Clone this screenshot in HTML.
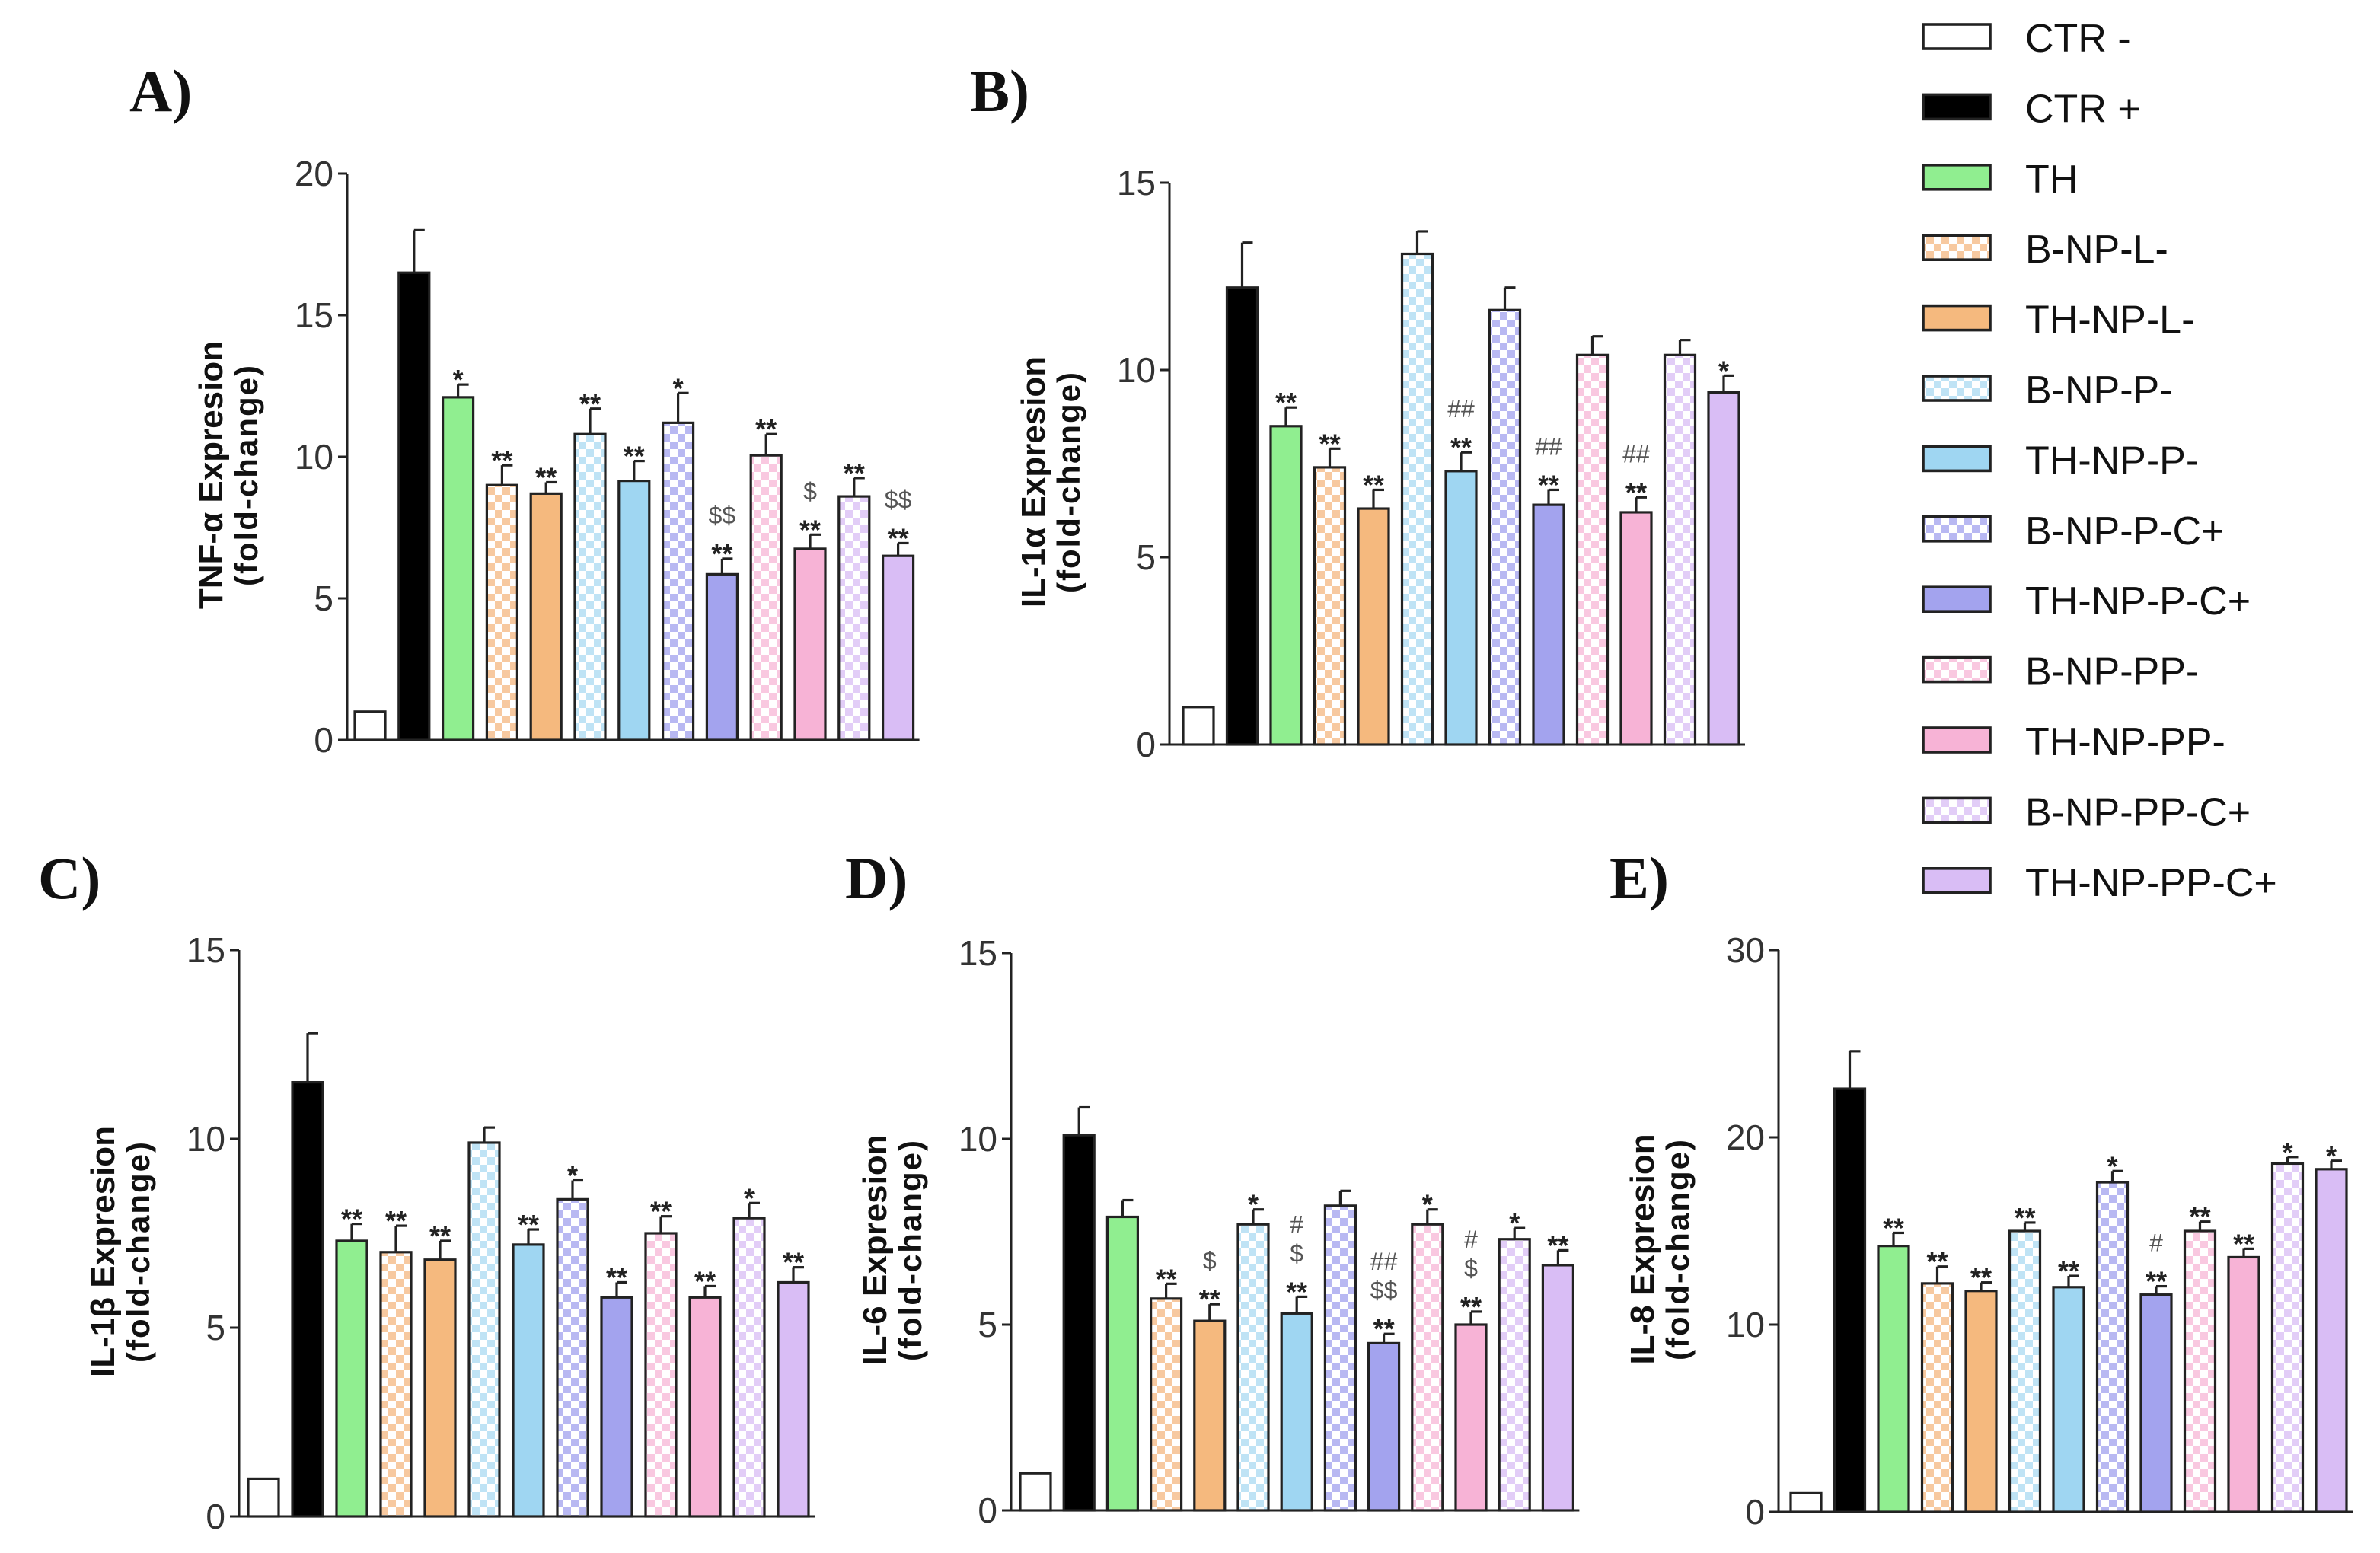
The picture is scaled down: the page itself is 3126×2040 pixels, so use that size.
<!DOCTYPE html>
<html><head><meta charset="utf-8"><style>
html,body{margin:0;padding:0;background:#fff;}
svg{display:block;}
</style></head><body>
<svg id="fig" xmlns="http://www.w3.org/2000/svg" width="3126" height="2040" viewBox="0 0 1563 1020" font-family="Liberation Sans, Arial, sans-serif">
<defs id="defs"></defs>
<g id="root"></g>
</svg>
<script>
const categories = ["CTR -","CTR +","TH","B-NP-L-","TH-NP-L-","B-NP-P-","TH-NP-P-","B-NP-P-C+","TH-NP-P-C+","B-NP-PP-","TH-NP-PP-","B-NP-PP-C+","TH-NP-PP-C+"];
const tnfValues = [1.0,16.5,12.1,9.0,8.7,10.8,9.15,11.2,5.85,10.05,6.75,8.6,6.5];
const tnfErrors = [0,1.5,0.45,0.7,0.4,0.9,0.7,1.05,0.55,0.75,0.5,0.65,0.45];
const tnfMarks = [[],[],["*"],["**"],["**"],["**"],["**"],["*"],["$$","**"],["**"],["$","**"],["**"],["$$","**"]];
const tnfTicks = [0,5,10,15,20];
const il1aValues = [1.0,12.2,8.5,7.4,6.3,13.1,7.3,11.6,6.4,10.4,6.2,10.4,9.4];
const il1aErrors = [0,1.2,0.5,0.5,0.5,0.6,0.5,0.6,0.4,0.5,0.4,0.4,0.45];
const il1aMarks = [[],[],["**"],["**"],["**"],[],["##","**"],[],["##","**"],[],["##","**"],[],["*"]];
const il1aTicks = [0,5,10,15];
const il1bValues = [1.0,11.5,7.3,7.0,6.8,9.9,7.2,8.4,5.8,7.5,5.8,7.9,6.2];
const il1bErrors = [0,1.3,0.45,0.7,0.5,0.4,0.4,0.5,0.4,0.45,0.3,0.4,0.4];
const il1bMarks = [[],[],["**"],["**"],["**"],[],["**"],["*"],["**"],["**"],["**"],["*"],["**"]];
const il1bTicks = [0,5,10,15];
const il6Values = [1.0,10.1,7.9,5.7,5.1,7.7,5.3,8.2,4.5,7.7,5.0,7.3,6.6];
const il6Errors = [0,0.75,0.45,0.4,0.45,0.4,0.45,0.4,0.25,0.4,0.35,0.3,0.4];
const il6Marks = [[],[],[],["**"],["$","**"],["*"],["#","$","**"],[],["##","$$","**"],["*"],["#","$","**"],["*"],["**"]];
const il6Ticks = [0,5,10,15];
const il8Values = [1.0,22.6,14.2,12.2,11.8,15.0,12.0,17.6,11.6,15.0,13.6,18.6,18.3];
const il8Errors = [0,2.0,0.7,0.9,0.45,0.45,0.6,0.6,0.45,0.5,0.45,0.35,0.45];
const il8Marks = [[],[],["**"],["**"],["**"],["**"],["**"],["*"],["#","**"],["**"],["**"],["*"],["*"]];
const il8Ticks = [0,10,20,30];

const NS="http://www.w3.org/2000/svg";
const colors=["#ffffff","#000000","#90ee90","#f7c9a0","#f5b97e","#bfe3f5","#9fd6f2","#b8b8f2","#a3a3ee","#f9c8e0","#f7b3d6","#e2cdf7","#d9bdf5"];
const checked=[false,false,false,true,false,true,false,true,false,true,false,true,false];
const defs=document.getElementById('defs');
const root=document.getElementById('root');
function mk(tag,attrs,parent){const e=document.createElementNS(NS,tag);for(const k in attrs)e.setAttribute(k,attrs[k]);(parent||root).appendChild(e);return e;}
colors.forEach((c,i)=>{ if(!checked[i])return;
 const p=mk('pattern',{id:'chk'+i,width:10,height:10,patternUnits:'userSpaceOnUse'},defs);
 mk('rect',{x:0,y:0,width:10,height:10,fill:'#fff'},p);
 mk('rect',{x:0,y:0,width:5,height:5,fill:c},p);
 mk('rect',{x:5,y:5,width:5,height:5,fill:c},p);
});
function fillFor(i){return checked[i]?'url(#chk'+i+')':colors[i];}

function drawPanel(cfg){
 const g=mk('g',{});
 
 
 const yS=v=>cfg.y0-(v/cfg.ymax)*(cfg.y0-cfg.yTop);
 const xS=i=>cfg.bx+i*cfg.pitch;
 const bw=20;
 const L=mk('text',{x:cfg.lx,y:cfg.ly,'font-family':'Liberation Serif, serif','font-weight':'bold','font-size':39,fill:'#111'},g);
 L.textContent=cfg.letter;
 
 
 const tx=cfg.ax-82, ty=(cfg.y0+cfg.yTop)/2+12;
 const t1=mk('text',{x:0,y:0,transform:`translate(${tx},${ty}) rotate(-90)`,'text-anchor':'middle','font-weight':'bold','font-size':22,fill:'#111'},g);
 t1.textContent=cfg.title;
 
 
 const t2=mk('text',{x:0,y:0,transform:`translate(${tx+23},${ty}) rotate(-90)`,'text-anchor':'middle','font-weight':'bold','font-size':21,fill:'#111','letter-spacing':'1'},g);
 t2.textContent='(fold-change)';
 
 
 const ya=mk('line',{x1:cfg.ax,y1:yS(cfg.ticks[cfg.ticks.length-1]),x2:cfg.ax,y2:cfg.y0,stroke:'#222','stroke-width':1.5},g);
 
 
 const xa=mk('line',{x1:cfg.ax-4,y1:cfg.y0,x2:xS(12)+bw+4,y2:cfg.y0,stroke:'#222','stroke-width':1.5},g);
 
 
 cfg.ticks.forEach(t=>{
  mk('line',{x1:cfg.ax-6,y1:yS(t),x2:cfg.ax,y2:yS(t),stroke:'#222','stroke-width':1.5},g);
  const tl=mk('text',{x:cfg.ax-9,y:yS(t)+8,'text-anchor':'end','font-size':23,fill:'#333'},g);
  tl.textContent=t;
  
  
 });
 cfg.values.forEach((v,i)=>{
  const x=xS(i), top=yS(v);
  const r=mk('rect',{x:x,y:top,width:bw,height:cfg.y0-top,fill:fillFor(i),stroke:'#222','stroke-width':1.6},g);
  
  
  const e=cfg.errors[i];
  let markTop=top;
  if(e>0){
   const et=yS(v+e);
   mk('line',{x1:x+bw/2,y1:top,x2:x+bw/2,y2:et,stroke:'#222','stroke-width':1.6},g);
   mk('line',{x1:x+bw/2,y1:et,x2:x+bw/2+7,y2:et,stroke:'#222','stroke-width':1.6},g);
   markTop=et;
  }
  const m=cfg.marks[i];
  for(let k=m.length-1,n=0;k>=0;k--,n++){
   const s=m[k];
   const star=s.indexOf('*')>=0;
   const mt=mk('text',{x:x+bw/2,y:markTop-4-n*19+(star?7:0),'text-anchor':'middle','font-size':star?18:16,'font-weight':star?'bold':'normal',fill:star?'#222':'#555'},g);
   mt.textContent=s;
   
   
  }
 });
}
drawPanel({name:'panel-a-tnf',letter:'A)',lx:85,ly:73,title:'TNF-\u03b1 Expresion',values:tnfValues,errors:tnfErrors,marks:tnfMarks,ticks:tnfTicks,ymax:20,ax:228,y0:486,yTop:114,bx:233,pitch:28.9});
drawPanel({name:'panel-b-il1a',letter:'B)',lx:637,ly:73,title:'IL-1\u03b1 Expresion',values:il1aValues,errors:il1aErrors,marks:il1aMarks,ticks:il1aTicks,ymax:15,ax:768,y0:489,yTop:120,bx:777,pitch:28.75});
drawPanel({name:'panel-c-il1b',letter:'C)',lx:25,ly:590,title:'IL-1\u03b2 Expresion',values:il1bValues,errors:il1bErrors,marks:il1bMarks,ticks:il1bTicks,ymax:15,ax:157,y0:996,yTop:624,bx:163,pitch:29});
drawPanel({name:'panel-d-il6',letter:'D)',lx:555,ly:590,title:'IL-6 Expresion',values:il6Values,errors:il6Errors,marks:il6Marks,ticks:il6Ticks,ymax:15,ax:664,y0:992,yTop:626,bx:670,pitch:28.6});
drawPanel({name:'panel-e-il8',letter:'E)',lx:1057,ly:590,title:'IL-8 Expresion',values:il8Values,errors:il8Errors,marks:il8Marks,ticks:il8Ticks,ymax:30,ax:1168,y0:993,yTop:624,bx:1176,pitch:28.75});

const lg=mk('g',{});


categories.forEach((c,i)=>{
 const y=24+i*46.2;
 const r=mk('rect',{x:1263,y:y-8,width:44,height:16,fill:fillFor(i),stroke:'#222','stroke-width':1.8},lg);
 
 
 const t=mk('text',{x:1330,y:y+10,'font-size':26,fill:'#111'},lg);
 t.textContent=c;
 
 
});
</script>
</body></html>
